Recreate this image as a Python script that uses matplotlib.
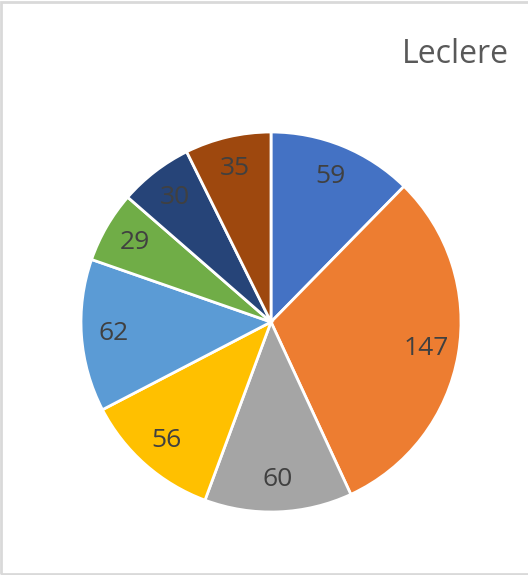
import matplotlib
matplotlib.use("Agg")
import matplotlib.pyplot as plt
from matplotlib.patches import Rectangle

values = [59, 147, 60, 56, 62, 29, 30, 35]
colors = ["#4472C4", "#ED7D31", "#A5A5A5", "#FFC000", "#5B9BD5", "#70AD47", "#264478", "#9E480E"]
title = "Leclere"

plt.rcParams['font.family'] = ['Open Sans', 'DejaVu Sans']

fig = plt.figure(figsize=(5.28, 5.75), dpi=100)
fig.patch.set_facecolor('white')

ax = fig.add_axes([81/528, (575-512)/575, 380/528, 380/575])
wedges, texts, autotexts = ax.pie(
    values, colors=colors, startangle=90, counterclock=False,
    autopct=lambda p: f"{round(p*sum(values)/100):d}", pctdistance=0.83,
    wedgeprops=dict(edgecolor='white', linewidth=2),
    textprops=dict(fontsize=19, color='#404040'))
ax.set_xlim(-1, 1)
ax.set_ylim(-1, 1)
ax.set_aspect('equal')

fig.text(509/528, 1-63/575, title, ha='right', va='baseline', fontsize=23, color='#595959')

# border (left, top, bottom)
fig.add_artist(Rectangle((1/528, 1.5/575), 1.2, 1-3/575, transform=fig.transFigure,
                         fill=False, edgecolor='#D9D9D9', linewidth=2))

fig.savefig('out.png', dpi=100, facecolor='white')
